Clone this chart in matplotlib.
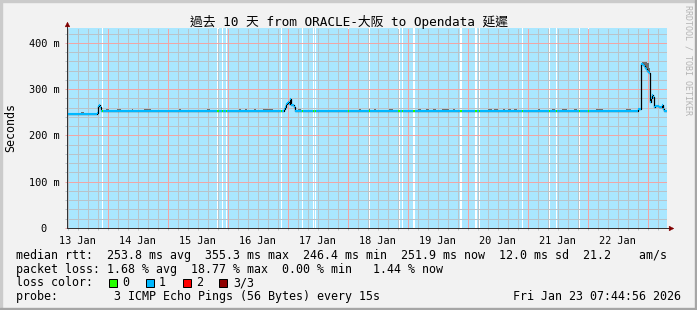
import numpy as np
import pandas as pd
import matplotlib
matplotlib.use("Agg")
import matplotlib.pyplot as plt
from matplotlib.ticker import FixedLocator, MultipleLocator, FuncFormatter
from matplotlib.patches import Rectangle

W, H = 697, 310
plt.rcParams["font.family"] = ["DejaVu Sans Mono", "Noto Sans CJK TC"]

start = pd.Timestamp("2026-01-13 07:44:56")
end = pd.Timestamp("2026-01-23 07:44:56")
span_h = (end - start) / pd.Timedelta(hours=1)

# median rtt as steps: hours after graph start, value in ms
med_t = [0.0, 12.0, 12.4, 12.8, 13.2, 13.6, 14.0, 30.0, 33.6, 54.0, 57.2,
         72.8, 73.2, 76.8, 78.8, 86.8, 87.2, 87.6, 88.0, 88.4, 88.8, 89.2,
         89.6, 90.0, 90.6, 91.0, 104.4, 105.0, 145.6, 146.8, 150.0, 152.8,
         154.8, 155.2, 216.8, 225.6, 228.4, 229.2, 229.6, 230.4, 230.8,
         231.2, 231.6, 232.0, 232.4, 232.8, 233.2, 233.6, 234.0, 234.4,
         234.8, 235.2, 236.0, 236.8, 237.4, 237.8, 238.2, 238.6]
med_ms = [246.4, 249.0, 264.0, 265.0, 262.0, 252.5, 251.9, 253.5, 251.9, 253.5, 251.9,
          253.0, 251.9, 253.5, 251.9, 256.0, 262.0, 268.0, 270.0, 273.0, 268.0, 278.0,
          266.0, 265.0, 262.0, 251.9, 253.5, 251.9, 253.5, 251.9, 253.5, 251.9,
          253.5, 251.9, 253.2, 251.9, 256.0, 258.0, 355.3, 352.0, 349.0,
          346.0, 343.0, 340.0, 337.0, 334.0, 273.0, 280.0, 287.0, 284.0,
          262.0, 264.0, 263.0, 262.0, 261.0, 265.0, 256.0, 251.9]

# periods without loss (hours after start)
loss0_start = [14.0, 60.0, 62.0, 63.4, 85.6, 94.0, 98.2, 99.2, 112.2, 120.8, 132.2,
               133.8, 138.4, 157.2, 163.2, 164.6, 182.0, 192.8, 195.6, 204.8, 208.4]
loss0_end = [14.4, 60.8, 62.4, 63.8, 86.0, 94.4, 98.6, 99.6, 112.6, 121.2, 133.0,
             134.4, 139.0, 157.8, 164.0, 165.2, 182.4, 193.2, 196.0, 205.2, 208.8]

# smoke (ping spread) showing above the median line
smoke_start = [5.6, 15.6, 19.9, 26.0, 30.9, 44.9, 55.9, 68.9, 71.3, 74.9, 78.3, 92.3,
               116.9, 120.7, 122.9, 128.9, 140.3, 143.6, 146.3, 150.0, 154.3, 168.3,
               170.9, 174.3, 176.3, 178.9, 188.3, 194.0, 198.0, 202.9, 211.6, 223.6,
               229.8, 230.2, 230.6, 231.0, 231.4, 231.8, 232.2, 232.6, 233.0]
smoke_end = [6.8, 16.7, 21.6, 26.4, 33.6, 45.6, 57.2, 69.6, 71.9, 75.6, 82.3, 93.6,
             117.6, 121.2, 123.6, 130.3, 141.6, 144.9, 147.6, 152.9, 155.3, 170.0,
             172.3, 175.3, 177.6, 179.9, 189.2, 195.3, 199.9, 203.9, 214.3, 225.6,
             230.2, 230.6, 231.0, 231.4, 231.8, 232.2, 232.6, 233.0, 233.2]
smoke_top = [250.5, 256.0, 256.0, 256.0, 257.5, 256.0, 257.5, 256.0, 256.0, 256.0, 256.0, 256.0,
             256.0, 256.0, 256.0, 256.0, 256.0, 256.0, 256.0, 257.5, 256.0, 256.0,
             256.0, 256.0, 256.0, 256.0, 256.0, 256.0, 256.0, 256.0, 256.0, 256.0,
             359.0, 359.0, 359.0, 359.0, 358.0, 357.0, 356.0, 346.0, 343.0]

rtt_avg, rtt_max, rtt_min, rtt_now, rtt_sd, rtt_ams = 253.8, 355.3, 246.4, 251.9, 12.0, 21.2
loss_avg, loss_max, loss_min, loss_now = 1.68, 18.77, 0.00, 1.44
loss_labels = ["0", "1", "2", "3/3"]
loss_colors = ["#26ff00", "#00b8ff", "#ff0000", "#8f0000"]

title = "過去 10 天 from ORACLE-大阪 to Opendata 延遲"
probe = "3 ICMP Echo Pings (56 Bytes) every 15s"
stamp = "Fri Jan 23 07:44:56 2026"

GRID = "#b9c3ca"
MGRID = "#f0a6a6"
AXIS = "#333333"
ARROW = "#800000"
BLUE_BG = "#aae7ff"

fig = plt.figure(figsize=(W / 100, H / 100), dpi=100, facecolor="#f2f2f2")
ax = fig.add_axes([67 / W, (H - 228) / H, 600 / W, 200 / H])
ax.set_facecolor("white")
ax.set_xlim(0, span_h)
ax.set_ylim(0, 432)

# loss background: blue for loss, white where nothing was lost
ax.axvspan(0, span_h, color=BLUE_BG, lw=0, zorder=0.1)
for s, e in zip(loss0_start, loss0_end):
    ax.axvspan(s, e, color="white", lw=0, zorder=0.2)

# time axis
to_h = lambda idx: (idx - start) / pd.Timedelta(hours=1)
midnights = pd.date_range("2026-01-14", end, freq="D")
noons = pd.date_range("2026-01-13 12:00", end, freq="D")
four_h = pd.date_range("2026-01-13 08:00", end, freq="4h")

ax.xaxis.set_major_locator(FixedLocator(to_h(noons)))
ax.set_xticklabels(noons.strftime("%d %b"))
ax.xaxis.set_minor_locator(FixedLocator(to_h(four_h)))
ax.xaxis.remove_overlapping_locs = False

ax.yaxis.set_major_locator(MultipleLocator(100))
ax.yaxis.set_minor_locator(MultipleLocator(20))
ax.yaxis.set_major_formatter(FuncFormatter(lambda v, p: "0  " if v == 0 else f"{v:.0f} m"))

ax.set_axisbelow(True)
dots = (0, (1, 1))
ax.grid(which="minor", color=GRID, lw=0.72, ls=dots, antialiased=False)
ax.yaxis.grid(which="major", color=MGRID, lw=0.72, ls=dots, antialiased=False)
for h in to_h(midnights):
    ax.axvline(h, color=MGRID, lw=0.72, ls=dots, zorder=0.6, antialiased=False)

ax.tick_params(axis="x", which="major", length=0, pad=6, labelsize=7.4)
ax.tick_params(axis="x", which="minor", length=1.5, width=0.72, color=GRID)
ax.tick_params(axis="y", which="major", length=1.5, width=0.72, color=MGRID, pad=4, labelsize=7.4)
ax.tick_params(axis="y", which="minor", length=1.5, width=0.72, color=GRID)

for side in ["top", "right"]:
    ax.spines[side].set_visible(False)
for side in ["left", "bottom"]:
    ax.spines[side].set_color(AXIS)
    ax.spines[side].set_linewidth(0.72)
    ax.spines[side].set_zorder(5)

# axis arrows
ax.plot([0, 0], [1, 1.012], transform=ax.transAxes, color=AXIS, lw=0.72, clip_on=False)
ax.plot([0], [1.021], marker="^", ms=3.4, color=ARROW, mec=ARROW, mew=0.3,
        transform=ax.transAxes, clip_on=False)
ax.plot([1, 1.003], [0, 0], transform=ax.transAxes, color=AXIS, lw=0.72, clip_on=False)
ax.plot([1.0068], [0], marker=">", ms=3.4, color=ARROW, mec=ARROW, mew=0.3,
        transform=ax.transAxes, clip_on=False)

# smoke
med_t_arr = np.array(med_t)
med_ms_arr = np.array(med_ms)
sm_s = np.array(smoke_start)
sm_low = med_ms_arr[np.searchsorted(med_t_arr, sm_s, side="right") - 1] - 1.0
ax.bar(sm_s, np.array(smoke_top) - sm_low, width=np.array(smoke_end) - sm_s,
       bottom=sm_low, align="edge", color="#6e6e6e", lw=0, zorder=1.5)

# median line
t_ext = np.append(med_t_arr, span_h)
ms_ext = np.append(med_ms_arr, med_ms_arr[-1])
ax.step(t_ext, ms_ext, where="post", color="black", lw=0.9, zorder=2)
ax.hlines(med_ms_arr, med_t_arr, t_ext[1:], color=loss_colors[1], lw=1.5,
          capstyle="butt", zorder=2.5)
l0 = np.array(loss0_start)
l0_y = med_ms_arr[np.searchsorted(med_t_arr, l0, side="right") - 1]
ax.hlines(l0_y, l0, loss0_end, color=loss_colors[0], lw=1.5, capstyle="butt", zorder=2.6)

# texts
def fx(x):
    return x / W

def fy(y):
    return 1 - y / H

fig.text(fx(348.5), fy(26), title, ha="center", va="baseline", fontsize=9.2)
fig.text(fx(11), fy(128), "Seconds", rotation=90, ha="center", va="center", fontsize=8.4)
fig.text(fx(688), fy(5), "RRDTOOL / TOBI OETIKER", rotation=270, ha="center", va="top",
         fontsize=6, color="#b4b4b4")

line1 = (f"median rtt:  {rtt_avg:.1f} ms avg  {rtt_max:.1f} ms max  {rtt_min:.1f} ms min  "
         f"{rtt_now:.1f} ms now  {rtt_sd:.1f} ms sd  {rtt_ams:.1f}    am/s")
line2 = (f"packet loss: {loss_avg:.2f} % avg  {loss_max:.2f} % max  {loss_min:.2f} % min   "
         f"{loss_now:.2f} % now")
fig.text(fx(16), fy(258.8), line1, va="baseline", fontsize=8.4)
fig.text(fx(16), fy(272.5), line2, va="baseline", fontsize=8.4)
fig.text(fx(16), fy(286.2), "loss color:", va="baseline", fontsize=8.4)
for i, (lab, col) in enumerate(zip(loss_labels, loss_colors)):
    bx = 108.7 + 36.9 * i
    fig.patches.append(Rectangle((fx(bx), fy(286.5)), 8 / W, 8 / H, facecolor=col,
                                 edgecolor="black", lw=0.72, transform=fig.transFigure))
    fig.text(fx(bx + 13.5), fy(286.2), lab, va="baseline", fontsize=8.4)
fig.text(fx(16), fy(299.9), "probe:        " + probe, va="baseline", fontsize=8.4)
fig.text(fx(681), fy(299.9), stamp, ha="right", va="baseline", fontsize=8.4)

# 3d frame
fig.patches.append(Rectangle((0, fy(2)), 1, 2 / H, color="#cbcbcb", transform=fig.transFigure))
fig.patches.append(Rectangle((0, 0), 2 / W, 1, color="#cbcbcb", transform=fig.transFigure))
fig.patches.append(Rectangle((0, 0), 1, 2 / H, color="#a6a6a6", transform=fig.transFigure))
fig.patches.append(Rectangle((fx(695), 0), 2 / W, 1, color="#a6a6a6", transform=fig.transFigure))

fig.savefig("out.png", dpi=100, facecolor=fig.get_facecolor())
